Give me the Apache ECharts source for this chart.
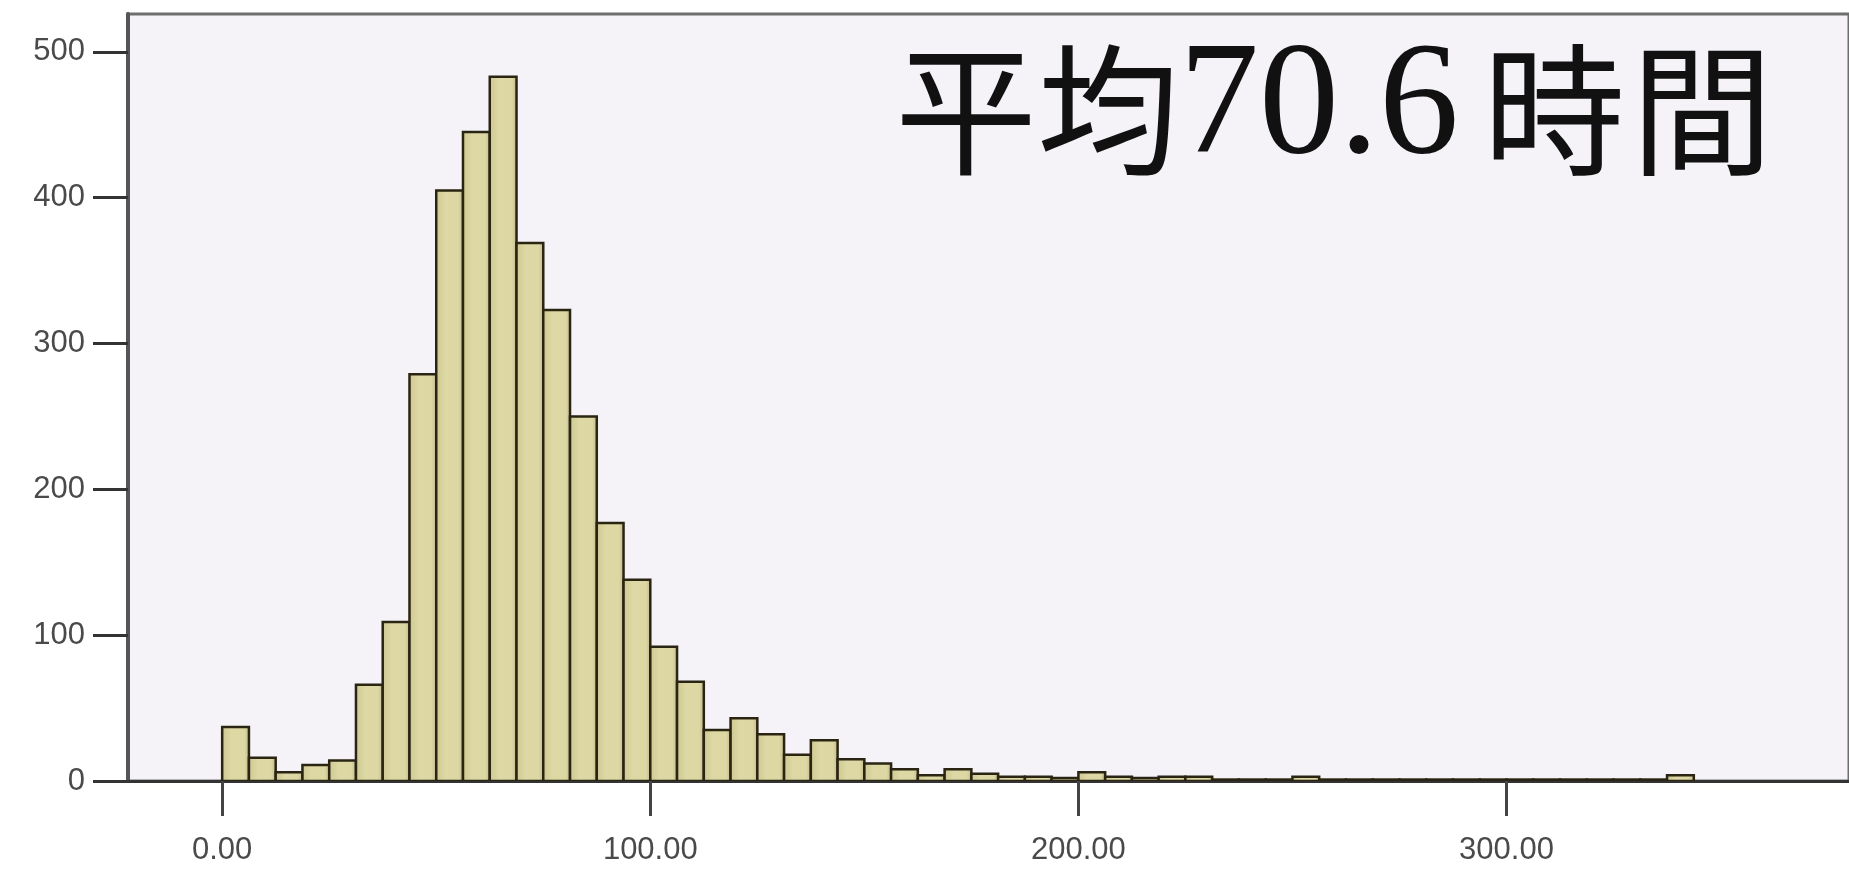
<!DOCTYPE html>
<html>
<head>
<meta charset="utf-8">
<script src="https://cdn.jsdelivr.net/npm/echarts@6/dist/echarts.min.js"></script>
<style>
html,body{margin:0;padding:0;background:#fff;}
#chart{width:1849px;height:871px;}
</style>
</head>
<body>
<div id="chart"></div>
<script>
// Histogram bins (width 6.25 hours, starting at 0)
var binWidth = 6.25;
var counts = [37, 16, 6, 11, 14, 66, 109, 279, 405, 445, 483, 369, 323, 250, 177, 138,
              92, 68, 35, 43, 32, 18, 28, 15, 12, 8, 4, 8, 5, 3, 3, 2,
              6, 3, 2, 3, 3, 1, 1, 1, 3, 1, 1, 1, 1, 1, 1, 1,
              1, 1, 1, 1, 1, 1, 4];
var xTickValues = [0, 100, 200, 300];
var yTickValues = [0, 100, 200, 300, 400, 500];
var titleParts = ['平均', '70.6', '時', '間'];

var data = counts.map(function (c, i) {
  return [i * binWidth, (i + 1) * binWidth, c];
});

var chart = echarts.init(document.getElementById('chart'));
chart.setOption({
  animation: false,
  backgroundColor: '#ffffff',
  title: {
    text: '{a|' + titleParts[0] + '}{b|' + titleParts[1] + '}{c|' + titleParts[2] + '}{d|' + titleParts[3] + '}',
    left: 890,
    top: 30,
    textStyle: {
      fontWeight: 'normal',
      rich: {
        a: { fontFamily: 'Noto Sans CJK JP', fontSize: 142, fontWeight: 'normal', color: '#111', lineHeight: 150 },
        b: { fontFamily: 'Liberation Serif', fontSize: 160, fontWeight: 'normal', color: '#111', lineHeight: 150 },
        c: { fontFamily: 'Noto Sans CJK JP', fontSize: 142, fontWeight: 'normal', color: '#111', lineHeight: 150, padding: [0, 0, 0, 24] },
        d: { fontFamily: 'Noto Sans CJK JP', fontSize: 142, fontWeight: 'normal', color: '#111', lineHeight: 150, padding: [0, 0, 0, 6] }
      }
    }
  },
  grid: {
    left: 128, right: 0, top: 14, bottom: 90,
    show: true,
    backgroundColor: '#f5f3f7',
    borderColor: '#6e6e6e',
    borderWidth: 3
  },
  xAxis: {
    type: 'value',
    min: -22,
    max: 380,
    splitLine: { show: false },
    axisLine: { show: true, onZero: false, lineStyle: { color: '#333', width: 3 } },
    axisTick: { show: true, customValues: xTickValues, length: 35, lineStyle: { color: '#444', width: 3 } },
    axisLabel: {
      customValues: xTickValues,
      margin: 54,
      fontFamily: 'Liberation Sans',
      fontSize: 31,
      color: '#4a4a4a',
      formatter: function (v) { return v.toFixed(2); }
    }
  },
  yAxis: {
    type: 'value',
    min: 0,
    max: 526,
    splitLine: { show: false },
    axisLine: { show: true, onZero: false, lineStyle: { color: '#555', width: 4 } },
    axisTick: { show: true, customValues: yTickValues, length: 35, lineStyle: { color: '#333', width: 3 } },
    axisLabel: {
      customValues: yTickValues,
      margin: 43,
      fontFamily: 'Liberation Sans',
      fontSize: 31,
      color: '#4a4a4a'
    }
  },
  series: [{
    type: 'custom',
    data: data,
    encode: { x: [0, 1], y: 2 },
    clip: true,
    renderItem: function (params, api) {
      var x0 = api.value(0), x1 = api.value(1), y = api.value(2);
      var p0 = api.coord([x0, y]);
      var p1 = api.coord([x1, 0]);
      return {
        type: 'rect',
        shape: { x: p0[0], y: p0[1], width: p1[0] - p0[0], height: p1[1] - p0[1] },
        style: {
          fill: {
            type: 'linear', x: 0, y: 0, x2: 1, y2: 0,
            colorStops: [
              { offset: 0, color: '#cdc690' },
              { offset: 0.35, color: '#ddd8a4' },
              { offset: 0.8, color: '#dcd7a3' },
              { offset: 1, color: '#bdb68a' }
            ]
          },
          stroke: '#2a2412',
          lineWidth: 2.5
        }
      };
    }
  }]
});
</script>
</body>
</html>
